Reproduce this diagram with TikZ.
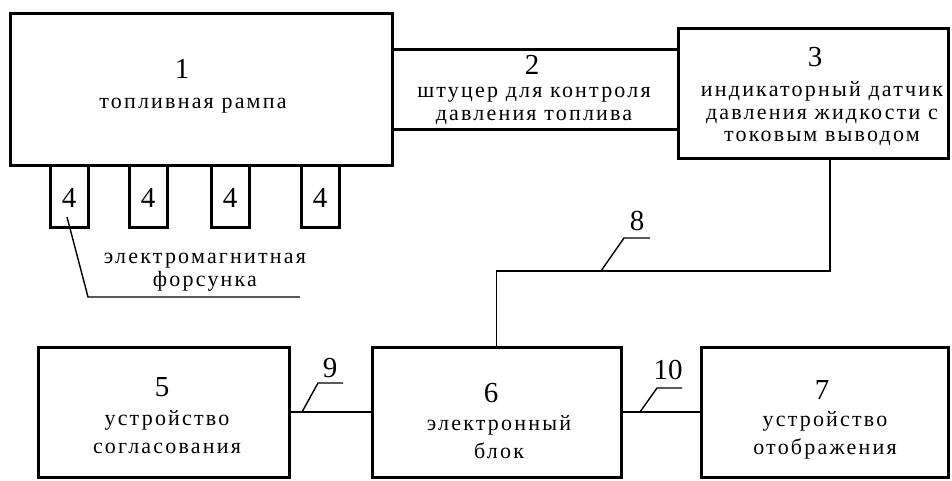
\documentclass[tikz,border=0pt]{standalone}
\usepackage{fontspec}
\setmainfont{Liberation Serif}[LetterSpace=10]
\newfontfamily\cifry{Liberation Serif}

\begin{document}
\begin{tikzpicture}[x=1pt,y=-1pt,
  blok/.style={draw,line width=3pt,inner sep=0pt},
  nomer/.style={inner sep=0pt,font=\cifry\fontsize{29}{29}\selectfont},
  tekst/.style={inner sep=0pt,align=center,font=\fontsize{22}{22.5}\selectfont},
  tekstn/.style={inner sep=0pt,align=center,font=\fontsize{22}{28}\selectfont},
  svyaz/.style={line width=1.6pt},
  vynoska/.style={line width=1.4pt}]

\useasboundingbox (0,0) rectangle (952,480);

% rampa, shtucer, datchik
\node[blok,minimum width=382pt,minimum height=152pt] (b1) at (201,89) {};
\node[minimum width=286pt,minimum height=79pt,inner sep=0pt] (b2) at (535,89.5) {};
\node[blok,minimum width=270pt,minimum height=130pt] (b3) at (813,93) {};
\draw[line width=3pt] (b2.north west) -- (b2.north east);
\draw[line width=3pt] (b2.south west) -- (b2.south east);

\node[nomer] (n1) at (182,69) {1};
\node[tekst] (t1) at (193,106) {топливная рампа};
\node[nomer] (n2) at (532,65) {2};
\node[tekst] (t2) at (534,106) {штуцер для контроля\\давления топлива};
\node[nomer] (n3) at (815,57) {3};
\node[tekst] (t3) at (822,114) {индикаторный датчик\\давления жидкости с\\токовым выводом};

% forsunki
\foreach \x/\i in {69/a,148/b,230/c,320/d}{
  \node[blok,minimum width=38pt,minimum height=62pt] (f\i) at (\x,196) {};
  \node[nomer] (nf\i) at (\x,198) {4};
}
\coordinate (v4a) at (67,217);
\coordinate (v4b) at (88,297);
\coordinate (v4c) at (300,297);
\draw[vynoska] (v4a) -- (v4b) -- (v4c);
\node[tekst] (t4) at (205,272) {электромагнитная\\форсунка};

% nizhnie bloki
\node[blok,minimum width=251pt,minimum height=130pt] (b5) at (163.5,412) {};
\node[blok,minimum width=249pt,minimum height=130pt] (b6) at (496.5,412) {};
\node[blok,minimum width=247pt,minimum height=130pt] (b7) at (824.5,412) {};

\node[nomer] (n5) at (162,387) {5};
\node[tekstn] (t5) at (167,432) {устройство\\согласования};
\node[nomer] (n6) at (491,393) {6};
\node[tekstn] (t6) at (499,437) {электронный\\блок};
\node[nomer] (n7) at (822,390) {7};
\node[tekstn] (t7) at (825,435) {устройство\\отображения};

% svyazi
\coordinate (c8) at (830,271);
\draw[svyaz] (b3.south -| c8) -- (c8) -| (b6.north);
\draw[svyaz] (b5.east) -- (b6.west);
\draw[svyaz] (b6.east) -- (b7.west);

% vynoski 8, 9, 10
\draw[vynoska] (601,271) -- (624,238) -- (650,238);
\node[nomer] (n8) at (637,221) {8};
\draw[vynoska] (302,412) -- (318,383) -- (343,383);
\node[nomer] (n9) at (330,368) {9};
\draw[vynoska] (640,412) -- (657,388) -- (682,388);
\node[nomer] (n10) at (668,370) {10};
\end{tikzpicture}
\end{document}
